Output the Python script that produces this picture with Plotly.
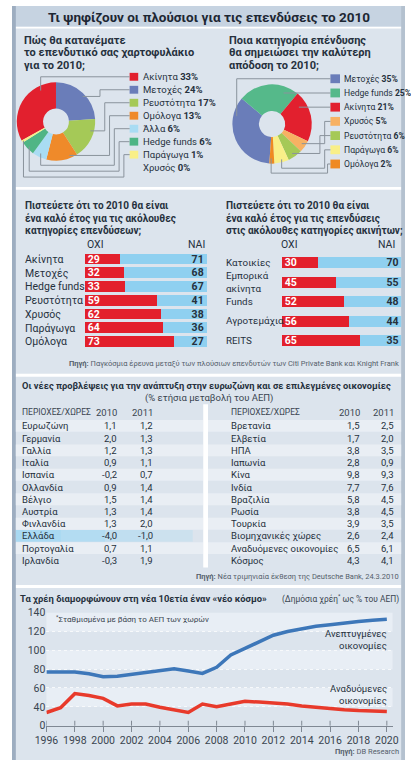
import plotly.graph_objects as go

W, H = 411, 772
def px(x): return x / W
def py(y): return 1 - y / H

FONT = "Roboto, sans-serif"
TXT = "#26313d"

# ---------------- DATA ----------------
main_title = "Τι ψηφίζουν οι πλούσιοι για τις επενδύσεις το 2010"

pie1_title = ["Πώς θα κατανέματε", "το επενδυτικό σας χαρτοφυλάκιο", "για το 2010;"]
pie1_labels = ["Ακίνητα", "Μετοχές", "Ρευστότητα", "Ομόλογα", "Άλλα", "Hedge funds", "Παράγωγα", "Χρυσός"]
pie1_values = [33, 24, 17, 13, 6, 6, 1, 0]
pie1_colors = ["#e2202e", "#6a7db9", "#a5c957", "#ef8a2a", "#a9dcf3", "#4fb585", "#f9ef88", "#f6b164"]

pie2_title = ["Ποια κατηγορία επένδυσης", "θα σημειώσει την καλύτερη", "απόδοση το 2010;"]
pie2_labels = ["Μετοχές", "Hedge funds", "Ακίνητα", "Χρυσός", "Ρευστότητα", "Παράγωγα", "Ομόλογα"]
pie2_values = [35, 25, 21, 5, 6, 6, 2]
pie2_colors = ["#6a7db9", "#55b98a", "#e2202e", "#f7b163", "#a5c957", "#f9ef88", "#ef8a22"]

bar1_title = ["Πιστεύετε ότι το 2010 θα είναι", "ένα καλό έτος για τις ακόλουθες", "κατηγορίες επενδύσεων;"]
bar1_labels = ["Ακίνητα", "Μετοχές", "Hedge funds", "Ρευστότητα", "Χρυσός", "Παράγωγα", "Ομόλογα"]
bar1_no = [29, 32, 33, 59, 62, 64, 73]
bar1_yes = [71, 68, 67, 41, 38, 36, 27]

bar2_title = ["Πιστεύετε ότι το 2010 θα είναι", "ένα καλό έτος για τις επενδύσεις", "στις ακόλουθες κατηγορίες ακινήτων;"]
bar2_labels = ["Κατοικίες", "Εμπορικά<br>ακίνητα", "Funds", "Αγροτεμάχια", "REITS"]
bar2_no = [30, 45, 52, 56, 65]
bar2_yes = [70, 55, 48, 44, 35]

source1 = "<b>Πηγή:</b> Παγκόσμια έρευνα μεταξύ των πλούσιων επενδυτών των Citi Private Bank και Knight Frank"

table_title = "Οι νέες προβλέψεις για την ανάπτυξη στην ευρωζώνη και σε επιλεγμένες οικονομίες"
table_sub = "(% ετήσια μεταβολή του ΑΕΠ)"
table_head = ["ΠΕΡΙΟΧΕΣ/ΧΩΡΕΣ", "2010", "2011"]
t1_names = ["Ευρωζώνη", "Γερμανία", "Γαλλία", "Ιταλία", "Ισπανία", "Ολλανδία", "Βέλγιο",
            "Αυστρία", "Φινλανδία", "Ελλάδα", "Πορτογαλία", "Ιρλανδία"]
t1_2010 = [1.1, 2.0, 1.2, 0.9, -0.2, 0.9, 1.5, 1.3, 1.3, -4.0, 0.7, -0.3]
t1_2011 = [1.2, 1.3, 1.3, 1.1, 0.7, 1.4, 1.4, 1.4, 2.0, -1.0, 1.1, 1.9]
t2_names = ["Βρετανία", "Ελβετία", "ΗΠΑ", "Ιαπωνία", "Κίνα", "Ινδία", "Βραζιλία", "Ρωσία",
            "Τουρκία", "Βιομηχανικές χώρες", "Αναδυόμενες οικονομίες", "Κόσμος"]
t2_2010 = [1.5, 1.7, 3.8, 2.8, 9.8, 7.7, 5.8, 3.8, 3.9, 2.6, 6.5, 4.3]
t2_2011 = [2.5, 2.0, 3.5, 0.9, 9.3, 7.6, 4.5, 4.5, 3.5, 2.4, 6.1, 4.1]
highlight_row = "Ελλάδα"
source2 = "<b>Πηγή:</b> Νέα τριμηνιαία έκθεση της Deutsche Bank, 24.3.2010"

line_title = "Τα χρέη διαμορφώνουν στη νέα 10ετία έναν «νέο κόσμο»"
line_sub = "(Δημόσια χρέη<sup>*</sup> ως % του ΑΕΠ)"
line_note = "<sup>*</sup>Σταθμισμένα με βάση το ΑΕΠ των χωρών"
years = list(range(1996, 2021))
developed = [77, 77, 77, 75, 72, 72.5, 74.5, 77, 79, 80.5, 78, 75.5, 82, 95, 102, 109, 116,
             120, 123, 125.5, 127, 129, 130.5, 132, 133]
emerging = [34, 39, 54, 52, 49, 41, 43, 43, 39.5, 36.5, 34, 43, 40, 43, 46, 45, 44, 43,
            41, 39.5, 38, 37, 36, 35.5, 35]
developed_name = ["Ανεπτυγμένες", "οικονομίες"]
emerging_name = ["Αναδυόμενες", "οικονομίες"]
y_tickvals = [20, 40, 60, 80, 100, 120, 140]
y_ticktext = ["0", "40", "60", "80", "100", "120", "140"]
x_tickvals = list(range(1996, 2021, 2))
source3 = "<b>Πηγή:</b> DB Research"

# ---------------- HELPERS ----------------
shapes, annotations = [], []

def rect(x0, y0, x1, y1, color, layer="below", opacity=1):
    shapes.append(dict(type="rect", xref="paper", yref="paper", x0=px(x0), x1=px(x1),
                       y0=py(y1), y1=py(y0), fillcolor=color, opacity=opacity,
                       line=dict(width=0), layer=layer))

def polyline(pts, color="#8a939c", width=1):
    d = "M " + " L ".join(f"{px(x):.5f},{py(y):.5f}" for x, y in pts)
    shapes.append(dict(type="path", xref="paper", yref="paper", path=d,
                       line=dict(color=color, width=width), layer="above"))

def text(x, y, s, size=11, bold=False, color=TXT, anchor="left"):
    annotations.append(dict(xref="paper", yref="paper", x=px(x), y=py(y), text=s,
                            showarrow=False, xanchor=anchor, yanchor="middle",
                            align=anchor if anchor != "center" else "center",
                            font=dict(size=size, color=color, family=FONT,
                                      weight="bold" if bold else "normal")))

def fmt(v):
    return f"{v:.1f}".replace(".", ",")

# ---------------- BACKGROUND ----------------
PANEL = "#dce4ed"
rect(0, 0, 411, 772, "white")
rect(0, 0, 411, 767, PANEL)
rect(0, 0, 411, 21, "#c6d3e1")
rect(0, 21, 411, 23, "white")
rect(0, 184, 411, 187, "white")
rect(0, 374, 411, 377, "white")
rect(0, 589, 411, 592, "white")
rect(0, 0, 4, 767, "#9dadc0")
rect(407, 0, 411, 767, "#b4c1cf")

text(205.5, 11, main_title, size=13.5, bold=True, color="#1d2733", anchor="center")

# ---------------- PIES ----------------
fig = go.Figure()
fig.add_trace(go.Pie(labels=pie1_labels, values=pie1_values, sort=False, direction="clockwise",
                     rotation=-118.8, hole=0.33, marker=dict(colors=pie1_colors, line=dict(width=0)),
                     textinfo="none", hoverinfo="label+value",
                     domain=dict(x=[px(5), px(87)], y=[py(158.5), py(76.5)]), showlegend=False))
fig.add_trace(go.Pie(labels=pie2_labels, values=pie2_values, sort=False, direction="clockwise",
                     rotation=-176, hole=0.33, marker=dict(colors=pie2_colors, line=dict(width=0)),
                     textinfo="none", hoverinfo="label+value",
                     domain=dict(x=[px(230.5), px(313.5)], y=[py(161.5), py(78.5)]), showlegend=False))

for i, s in enumerate(pie1_title):
    text(10, 35 + i * 12.7, s, size=11, bold=True)
for i, s in enumerate(pie2_title):
    text(225, 35 + i * 12.7, s, size=11, bold=True)

for i, (lab, v, c) in enumerate(zip(pie1_labels, pie1_values, pie1_colors)):
    y = 72 + i * 13.2
    if v > 0:
        rect(123, y - 4, 132, y + 4, c, layer="above")
    text(135, y, f"{lab} <b>{v}%</b>", size=9.5)
for i, (lab, v, c) in enumerate(zip(pie2_labels, pie2_values, pie2_colors)):
    y = 74 + i * 14.45
    rect(333, y - 4.5, 343, y + 4.5, c, layer="above")
    text(345.5, y, f"{lab} <b>{v}%</b>", size=8.6)

# connectors (left pie)
polyline([(123, 72), (30, 72), (30, 86)])
polyline([(123, 85.2), (92, 85.2), (92, 92), (74, 92)])
polyline([(123, 98.4), (97, 98.4), (97, 127), (82, 127)])
polyline([(123, 111.6), (102, 111.6), (102, 152), (60, 152)])
polyline([(123, 124.8), (107, 124.8), (107, 162), (30, 162), (30, 150)])
polyline([(123, 138), (112, 138), (112, 168), (18, 168), (18, 143)])
polyline([(123, 151.2), (117, 151.2), (117, 174), (12, 174), (12, 137)])
# connectors (right pie)
polyline([(333, 74), (235, 74), (235, 112)])
polyline([(333, 88.5), (284, 88.5)])
polyline([(333, 102.9), (300, 102.9)])
polyline([(333, 117.4), (327, 117.4), (327, 140), (303, 140)])
polyline([(333, 131.8), (322, 131.8), (322, 150), (293, 150)])
polyline([(333, 146.3), (327, 146.3), (327, 165), (282, 165), (282, 156)])
polyline([(333, 160.7), (330, 160.7), (330, 170), (271, 170), (271, 155)])

# ---------------- BARS ----------------
RED, BLUE = "#e3202c", "#8fd0f0"
def bars(no, yes, xa, ya, width):
    idx = list(range(len(no)))
    fig.add_trace(go.Bar(y=idx, x=no, orientation="h", marker=dict(color=RED, line=dict(width=0)),
                         width=width, text=[str(v) for v in no], textposition="inside",
                         insidetextanchor="start", constraintext="none", textangle=0,
                         textfont=dict(color="white", size=10.5, family=FONT, weight="bold"),
                         xaxis=xa, yaxis=ya, showlegend=False, hoverinfo="x"))
    fig.add_trace(go.Bar(y=idx, x=yes, orientation="h", marker=dict(color=BLUE, line=dict(width=0)),
                         width=width, text=[str(v) for v in yes], textposition="inside",
                         insidetextanchor="end", constraintext="none", textangle=0,
                         textfont=dict(color="#26313d", size=10.5, family=FONT, weight="bold"),
                         xaxis=xa, yaxis=ya, showlegend=False, hoverinfo="x"))

bars(bar1_no, bar1_yes, "x", "y", 0.78)
bars(bar2_no, bar2_yes, "x2", "y2", 0.56)

for i, s in enumerate(bar1_title):
    text(11, 203 + i * 12.7, s, size=10, bold=True)
for i, s in enumerate(bar2_title):
    text(222, 203 + i * 12.7, s, size=10, bold=True)
text(87, 243, "ΟΧΙ", size=10.5, anchor="center")
text(193, 243, "ΝΑΙ", size=10.5, anchor="center")
text(290, 243, "ΟΧΙ", size=10.5, anchor="center")
text(392, 243, "ΝΑΙ", size=10.5, anchor="center")

b1_top, b1_step = 250.7, 14.0
for i, lab in enumerate(bar1_labels):
    text(11, b1_top + b1_step * (i + 0.5), lab, size=10.5)
b2_top, b2_step = 251.0, 19.8
for i, lab in enumerate(bar2_labels):
    annotations.append(dict(xref="paper", yref="paper", x=px(222), y=py(b2_top + b2_step * (i + 0.5)),
                            text=lab, showarrow=False, xanchor="left", yanchor="middle", align="left",
                            font=dict(size=9.8, color=TXT, family=FONT)))

text(407, 364, source1, size=7.5, color="#55606b", anchor="right")

# ---------------- TABLE ----------------
text(8, 386, f"<b>{table_title}</b>", size=9.3)
text(205.5, 399, table_sub, size=9.5, color="#3a4550", anchor="center")

t_top, t_step = 427, 12.45
for i in range(len(t1_names)):
    y = t_top + i * t_step
    if i % 2 == 0:
        rect(4, y - 6, 200, y + 6, "#e9eef4")
        rect(205, y - 6, 407, y + 6, "#e9eef4")
    if t1_names[i] == highlight_row:
        for k, op in enumerate([1.0, 0.8, 0.55, 0.3]):
            rect(4 + k * 46, y - 6, 4 + (k + 1) * 46 + 1, y + 6, "#a9d9f2", opacity=op)
rect(200, 405, 205, 571, "white")

text(8, 413, table_head[0], size=8.5, color="#3a4550")
text(112, 413, table_head[1], size=9.5, color="#3a4550", anchor="right")
text(150, 413, table_head[2], size=9.5, color="#3a4550", anchor="right")
text(227, 413, table_head[0], size=8.5, color="#3a4550")
text(366, 413, table_head[1], size=9.5, color="#3a4550", anchor="right")
text(402, 413, table_head[2], size=9.5, color="#3a4550", anchor="right")
for i in range(len(t1_names)):
    y = t_top + i * t_step
    text(8, y, t1_names[i], size=9.5)
    text(112, y, fmt(t1_2010[i]), size=9.5, anchor="right")
    text(150, y, fmt(t1_2011[i]), size=9.5, anchor="right")
    text(227, y, t2_names[i], size=9.5)
    text(366, y, fmt(t2_2010[i]), size=9.5, anchor="right")
    text(402, y, fmt(t2_2011[i]), size=9.5, anchor="right")

text(407, 580, source2, size=7.5, color="#55606b", anchor="right")

# ---------------- LINE CHART ----------------
text(6, 603, f"<b>{line_title}</b>", size=9.4)
text(407, 603, line_sub, size=8.4, color="#3a4550", anchor="right")

for lo, hi in [(120, 140), (80, 100), (40, 60)]:
    shapes.append(dict(type="rect", xref="paper", yref="y3", x0=px(36), x1=px(398), y0=lo, y1=hi,
                       fillcolor="#e8eef5", line=dict(width=0), layer="below"))
for yr in x_tickvals:
    shapes.append(dict(type="line", xref="x3", yref="paper", x0=yr, x1=yr, y0=py(732), y1=py(727),
                       line=dict(color="#7f8893", width=1), layer="above"))

fig.add_trace(go.Scatter(x=years, y=developed, mode="lines", line=dict(color="#3d77b9", width=3.5),
                         xaxis="x3", yaxis="y3", showlegend=False, name=" ".join(developed_name)))
fig.add_trace(go.Scatter(x=years, y=emerging, mode="lines", line=dict(color="#e83a2b", width=3.5),
                         xaxis="x3", yaxis="y3", showlegend=False, name=" ".join(emerging_name)))

text(44, 624, line_note, size=8, color="#3a4550")
text(394, 638, developed_name[0], size=9.5, anchor="right")
text(394, 650.5, developed_name[1], size=9.5, anchor="right")
text(394, 694, emerging_name[0], size=9.5, anchor="right")
text(394, 706, emerging_name[1], size=9.5, anchor="right")
text(407, 758, source3, size=7.5, color="#55606b", anchor="right")

x3_range = [1996, 1996 + (398 - 36) / ((392 - 36) / 24)]

fig.update_layout(
    width=W, height=H, margin=dict(l=0, r=0, t=0, b=0),
    paper_bgcolor="white", plot_bgcolor="rgba(0,0,0,0)",
    barmode="stack", bargap=0, showlegend=False,
    font=dict(family=FONT, color=TXT),
    shapes=shapes, annotations=annotations,
    xaxis=dict(domain=[px(76), px(204)], range=[0, 100], visible=False, anchor="y", fixedrange=True),
    yaxis=dict(domain=[py(b1_top + 7 * b1_step), py(b1_top)], range=[6.5, -0.5], visible=False,
               anchor="x", fixedrange=True),
    xaxis2=dict(domain=[px(282), px(407)], range=[0, 100], visible=False, anchor="y2", fixedrange=True),
    yaxis2=dict(domain=[py(b2_top + 5 * b2_step), py(b2_top)], range=[4.5, -0.5], visible=False,
                anchor="x2", fixedrange=True),
    xaxis3=dict(domain=[px(36), px(398)], range=x3_range, anchor="y3", tickvals=x_tickvals,
                showgrid=False, zeroline=False, showline=True, linecolor="#7f8893", linewidth=1,
                ticks="outside", ticklen=5, tickcolor="#7f8893",
                tickfont=dict(size=10.5, color="#3a4550", family=FONT), fixedrange=True),
    yaxis3=dict(domain=[py(732), py(617)], range=[20, 140], anchor="x3", tickvals=y_tickvals,
                ticktext=y_ticktext, showgrid=True, gridcolor="#f7f9fb", griddash="dot",
                zeroline=False, showline=False, ticks="",
                tickfont=dict(size=10.5, color="#3a4550", family=FONT), fixedrange=True),
)

fig.write_html("out.html", post_script="document.body.style.margin='0';",
               config={"displayModeBar": False})
